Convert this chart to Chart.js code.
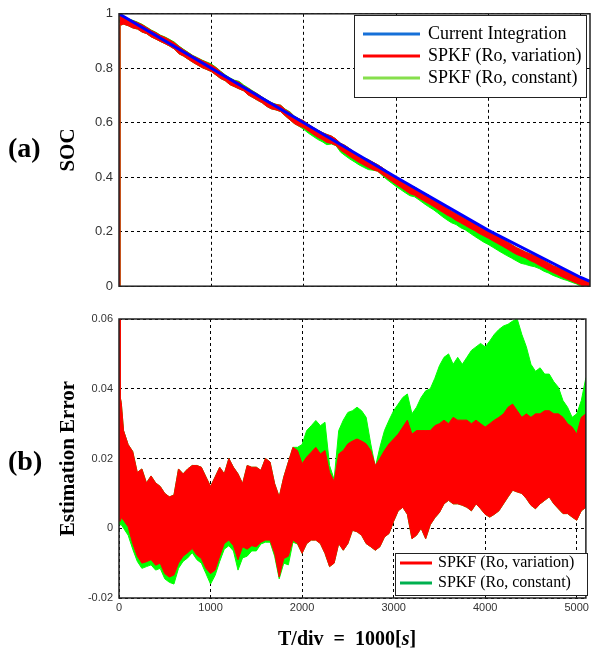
<!DOCTYPE html>
<html lang="en">
<head>
<meta charset="UTF-8">
<title>SOC estimation - SPKF</title>
<script src="https://cdn.jsdelivr.net/npm/chart.js"></script>
<style>
  body { margin: 0; background: #fff; width: 592px; height: 653px; position: relative; overflow: hidden; }
  canvas { position: absolute; left: 0; }
  #socChart { top: 0; }
  #errChart { top: 300px; }
  .tag { position: absolute; left: 8px; font: bold 28px "Liberation Serif", "Times New Roman", serif; line-height: 32px; }
  #xlabel { position: absolute; left: 278px; top: 626px; font: bold 20px "Liberation Serif", "Times New Roman", serif; line-height: 24px; white-space: nowrap; }
</style>
</head>
<body>
<canvas id="socChart" width="592" height="300"></canvas>
<canvas id="errChart" width="592" height="353"></canvas>
<div class="tag" style="top:132px">(a)</div>
<div class="tag" style="top:445px">(b)</div>
<div id="xlabel">T/div&nbsp; = &nbsp;1000[<i>s</i>]</div>

<script>
// time axis ticks [s]
const xTicks = [0, 1000, 2000, 3000, 4000, 5000];
const socTicks = [0, 0.2, 0.4, 0.6, 0.8, 1];
const errTicks = [-0.02, 0, 0.02, 0.04, 0.06];

// current integration (reference SOC)
const ciTime = [0, 1000, 2000, 3000, 4000, 5000, 5100];
const ciSoc  = [1, 0.80, 0.60, 0.40, 0.205, 0.032, 0.018];

// estimation error envelopes, sampled every 50 s (first value: filter starts at SOC = 0)
const errTime = [0, 10, 25,
  50, 100, 150, 200, 250, 300, 350, 400, 450, 500,
  550, 600, 650, 700, 750, 800, 850, 900, 950, 1000,
  1050, 1100, 1150, 1200, 1250, 1300, 1350, 1400, 1450, 1500,
  1550, 1600, 1650, 1700, 1750, 1800, 1850, 1900, 1950, 2000,
  2050, 2100, 2150, 2200, 2250, 2300, 2350, 2400, 2450, 2500,
  2550, 2600, 2650, 2700, 2750, 2800, 2850, 2900, 2950, 3000,
  3050, 3100, 3150, 3200, 3250, 3300, 3350, 3400, 3450, 3500,
  3550, 3600, 3650, 3700, 3750, 3800, 3850, 3900, 3950, 4000,
  4050, 4100, 4150, 4200, 4250, 4300, 4350, 4400, 4450, 4500,
  4550, 4600, 4650, 4700, 4750, 4800, 4850, 4900, 4950, 5000,
  5050, 5100];

// SPKF with Ro variation: upper / lower edge of the error band
const varHi = [1, 0.038, 0.036,
  0.028, 0.024, 0.022, 0.016, 0.017, 0.013, 0.015, 0.013, 0.012, 0.010,
  0.009, 0.0095, 0.017, 0.0156, 0.017, 0.018, 0.018, 0.0175, 0.0147, 0.012,
  0.0147, 0.0175, 0.0156, 0.020, 0.0175, 0.0156, 0.0128, 0.018, 0.0175, 0.0175,
  0.0166, 0.020, 0.019, 0.0128, 0.009, 0.0147, 0.019, 0.0232, 0.0223, 0.0185,
  0.0204, 0.0218, 0.0232, 0.0213, 0.0223, 0.016, 0.0135, 0.0213, 0.0223, 0.0242,
  0.025, 0.0256, 0.025, 0.0242, 0.0223, 0.018, 0.020, 0.0223, 0.0242, 0.0256,
  0.027, 0.029, 0.031, 0.027, 0.028, 0.028, 0.028, 0.028, 0.0294, 0.030,
  0.031, 0.030, 0.0318, 0.031, 0.031, 0.031, 0.030, 0.031, 0.030, 0.029,
  0.030, 0.031, 0.0318, 0.0328, 0.0347, 0.0356, 0.0337, 0.0318, 0.0328, 0.0318,
  0.0328, 0.0328, 0.0337, 0.0337, 0.0328, 0.0328, 0.0318, 0.030, 0.029, 0.027,
  0.0318, 0.0328];
const varLo = [1, 0.002, 0.003,
  0.0023, 0.0004, -0.0044, -0.008, -0.010, -0.0096, -0.009, -0.0106, -0.010, -0.013,
  -0.014, -0.0134, -0.010, -0.008, -0.007, -0.0058, -0.0077, -0.0087, -0.0115, -0.013,
  -0.012, -0.008, -0.0044, -0.0034, -0.005, -0.009, -0.0053, -0.006, -0.005, -0.0053,
  -0.004, -0.0034, -0.0034, -0.0072, -0.014, -0.0087, -0.008, -0.0034, -0.0044, -0.0072,
  -0.0044, -0.0034, -0.0034, -0.0044, -0.0072, -0.011, -0.010, -0.0044, -0.0063, -0.0044,
  -0.0006, -0.001, -0.002, -0.0044, -0.0053, -0.0063, -0.0053, -0.0025, -0.0015, 0.002,
  0.005, 0.006, 0.004, -0.003, -0.002, 0.000, -0.003, 0.001, 0.003, 0.0045,
  0.007, 0.008, 0.007, 0.007, 0.0066, 0.006, 0.005, 0.007, 0.0056, 0.004,
  0.0032, 0.004, 0.005, 0.007, 0.009, 0.0109, 0.0104, 0.010, 0.0085, 0.0066,
  0.0056, 0.007, 0.008, 0.009, 0.007, 0.0056, 0.0042, 0.0042, 0.0032, 0.0023,
  0.005, 0.006];

// SPKF with constant Ro
const constHi = [1, 0.038, 0.036,
  0.028, 0.024, 0.022, 0.016, 0.017, 0.013, 0.015, 0.013, 0.012, 0.010,
  0.009, 0.0095, 0.017, 0.0156, 0.017, 0.018, 0.018, 0.0175, 0.0147, 0.012,
  0.0147, 0.0175, 0.0156, 0.020, 0.0175, 0.0156, 0.0128, 0.018, 0.0175, 0.0175,
  0.0166, 0.020, 0.019, 0.0128, 0.009, 0.0147, 0.019, 0.0232, 0.0232, 0.024,
  0.028, 0.0294, 0.0309, 0.0294, 0.0304, 0.018, 0.014, 0.028, 0.031, 0.0332,
  0.0337, 0.0347, 0.0337, 0.0318, 0.0242, 0.0175, 0.0232, 0.028, 0.031, 0.0337,
  0.0356, 0.0375, 0.0385, 0.0328, 0.0347, 0.0375, 0.0394, 0.040, 0.043, 0.0466,
  0.049, 0.050, 0.047, 0.049, 0.047, 0.049, 0.051, 0.052, 0.053, 0.052,
  0.0537, 0.0556, 0.057, 0.058, 0.0585, 0.0594, 0.060, 0.0556, 0.052, 0.047,
  0.045, 0.046, 0.0442, 0.0442, 0.042, 0.0404, 0.0366, 0.0347, 0.0318, 0.0328,
  0.0366, 0.0432];
const constLo = [1, 0.001, 0.001,
  0.0, -0.002, -0.006, -0.0095, -0.0115, -0.011, -0.0105, -0.012, -0.0115, -0.0145,
  -0.0155, -0.016, -0.0115, -0.0095, -0.0085, -0.007, -0.009, -0.010, -0.013, -0.016,
  -0.0135, -0.0095, -0.006, -0.005, -0.0065, -0.012, -0.0085, -0.008, -0.0065, -0.0065,
  -0.0045, -0.004, -0.004, -0.008, -0.0145, -0.010, -0.0105, -0.004, -0.0045, -0.0072,
  -0.0044, -0.0034, -0.0034, -0.0044, -0.0072, -0.011, -0.010, -0.0044, -0.0063, -0.0044,
  -0.0006, -0.001, -0.002, -0.0044, -0.0053, -0.0063, -0.0053, -0.0025, -0.0015, 0.002,
  0.005, 0.006, 0.004, -0.003, -0.002, 0.000, -0.003, 0.001, 0.003, 0.0045,
  0.007, 0.008, 0.007, 0.007, 0.0066, 0.006, 0.005, 0.007, 0.0056, 0.004,
  0.0032, 0.004, 0.005, 0.007, 0.009, 0.0109, 0.0104, 0.010, 0.0085, 0.0066,
  0.0056, 0.007, 0.008, 0.009, 0.007, 0.0056, 0.0042, 0.0042, 0.0032, 0.0023,
  0.005, 0.006];

const RED = '#ff0000', GREEN = '#00ff00', BLUE = '#0000ff';

// reference SOC at any time (straight segments between the read points)
function ciAt(t) {
  for (let i = 1; i < ciTime.length; i++) {
    if (t <= ciTime[i]) {
      const f = (t - ciTime[i - 1]) / (ciTime[i] - ciTime[i - 1]);
      return ciSoc[i - 1] + f * (ciSoc[i] - ciSoc[i - 1]);
    }
  }
  return ciSoc[ciSoc.length - 1];
}

const pts = (xs, ys) => xs.map((x, i) => ({ x: x, y: ys[i] }));
// estimated SOC = reference SOC - estimation error
const socFrom = err => errTime.map((t, i) => ({ x: t, y: ciAt(t) - err[i] }));

function band(label, color, legendColor, hi, lo) {
  const base = { borderColor: color, backgroundColor: color, borderWidth: 1, pointRadius: 0, tension: 0, clip: 0 };
  return [
    Object.assign({ label: label, legendColor: legendColor, data: hi, fill: '+1' }, base),
    Object.assign({ data: lo, fill: false }, base)
  ];
}

// solid box around the plot area
const frame = {
  id: 'frame',
  afterDatasetsDraw(chart) {
    const a = chart.chartArea, ctx = chart.ctx;
    ctx.save();
    ctx.strokeStyle = '#222';
    ctx.lineWidth = 1.5;
    ctx.strokeRect(a.left, a.top, a.right - a.left, a.bottom - a.top);
    ctx.restore();
  }
};

// boxed legend inside the axes
const boxLegend = {
  id: 'boxLegend',
  afterDatasetsDraw(chart, args, o) {
    const ctx = chart.ctx;
    const items = chart.data.datasets.filter(d => d.label);
    ctx.save();
    ctx.fillStyle = '#fff';
    ctx.fillRect(o.x, o.y, o.w, o.h);
    ctx.strokeStyle = '#222';
    ctx.lineWidth = 1;
    ctx.strokeRect(o.x + 0.5, o.y + 0.5, o.w, o.h);
    ctx.font = o.font;
    ctx.textBaseline = 'middle';
    items.forEach((d, i) => {
      const y = o.y + o.first + i * o.row;
      ctx.strokeStyle = d.legendColor || d.borderColor;
      ctx.lineWidth = 3;
      ctx.beginPath();
      ctx.moveTo(o.x + o.lineX, y);
      ctx.lineTo(o.x + o.lineX + o.lineLen, y);
      ctx.stroke();
      ctx.fillStyle = '#000';
      ctx.fillText(d.label, o.x + o.textX, y);
    });
    ctx.restore();
  }
};

const fmt = v => String(+v.toFixed(2));

function axes(yTicks, yMin, yMax, yTitle, tickSize, showX, xHeight) {
  const tickFont = { family: 'Liberation Sans, Arial, sans-serif', size: tickSize };
  return {
    x: {
      type: 'linear', min: 0, max: 5100,
      afterBuildTicks: s => { s.ticks = xTicks.map(v => ({ value: v })); },
      afterFit: s => { s.height = xHeight; },
      grid: { color: '#000', lineWidth: 1, drawTicks: false },
      border: { display: false, dash: [3, 3] },
      ticks: { display: showX, autoSkip: false, maxRotation: 0, padding: 3, color: '#333', font: tickFont, callback: fmt }
    },
    y: {
      type: 'linear', min: yMin, max: yMax,
      afterBuildTicks: s => { s.ticks = yTicks.map(v => ({ value: v })); },
      afterFit: s => { s.width = 67; },
      grid: { color: '#000', lineWidth: 1, drawTicks: false },
      border: { display: false, dash: [3, 3] },
      ticks: { autoSkip: false, padding: 6, color: '#333', font: tickFont, callback: fmt },
      title: {
        display: true, text: yTitle, color: '#000', padding: { top: 4, bottom: 0 },
        font: { family: 'Liberation Serif, Times New Roman, serif', size: 21, weight: 'bold' }
      }
    }
  };
}

// (a) SOC
new Chart(document.getElementById('socChart'), {
  type: 'line',
  data: {
    datasets: [
      { label: 'Current Integration', legendColor: '#1670d8', data: pts(ciTime, ciSoc),
        borderColor: BLUE, borderWidth: 3, pointRadius: 0, tension: 0, fill: false, clip: 0 },
      ...band('SPKF (Ro, variation)', RED, RED, socFrom(varLo), socFrom(varHi)),
      ...band('SPKF (Ro, constant)', GREEN, '#86df4c', socFrom(constLo), socFrom(constHi))
    ]
  },
  options: {
    responsive: false,
    animation: false,
    layout: { padding: { left: 52, right: 2, top: 13, bottom: 10 } },
    scales: axes(socTicks, 0, 1, 'SOC', 13, false, 0),
    plugins: {
      legend: { display: false },
      tooltip: { enabled: false },
      boxLegend: { x: 354, y: 15, w: 232, h: 82, first: 19, row: 22, lineX: 9, lineLen: 57, textX: 74,
                   font: '18px "Liberation Serif", "Times New Roman", serif' }
    }
  },
  plugins: [frame, boxLegend]
});

// (b) estimation error
new Chart(document.getElementById('errChart'), {
  type: 'line',
  data: {
    datasets: [
      ...band('SPKF (Ro, variation)', RED, RED, pts(errTime, varHi), pts(errTime, varLo)),
      ...band('SPKF (Ro, constant)', GREEN, '#00b04f', pts(errTime, constHi), pts(errTime, constLo))
    ]
  },
  options: {
    responsive: false,
    animation: false,
    layout: { padding: { left: 52, right: 2, top: 19, bottom: 0 } },
    scales: axes(errTicks, -0.02, 0.06, 'Estimation Error', 11, true, 55),
    plugins: {
      legend: { display: false },
      tooltip: { enabled: false },
      boxLegend: { x: 395, y: 253, w: 192, h: 42, first: 10, row: 20, lineX: 5, lineLen: 32, textX: 43,
                   font: '16px "Liberation Serif", "Times New Roman", serif' }
    }
  },
  plugins: [frame, boxLegend]
});
</script>
</body>
</html>
